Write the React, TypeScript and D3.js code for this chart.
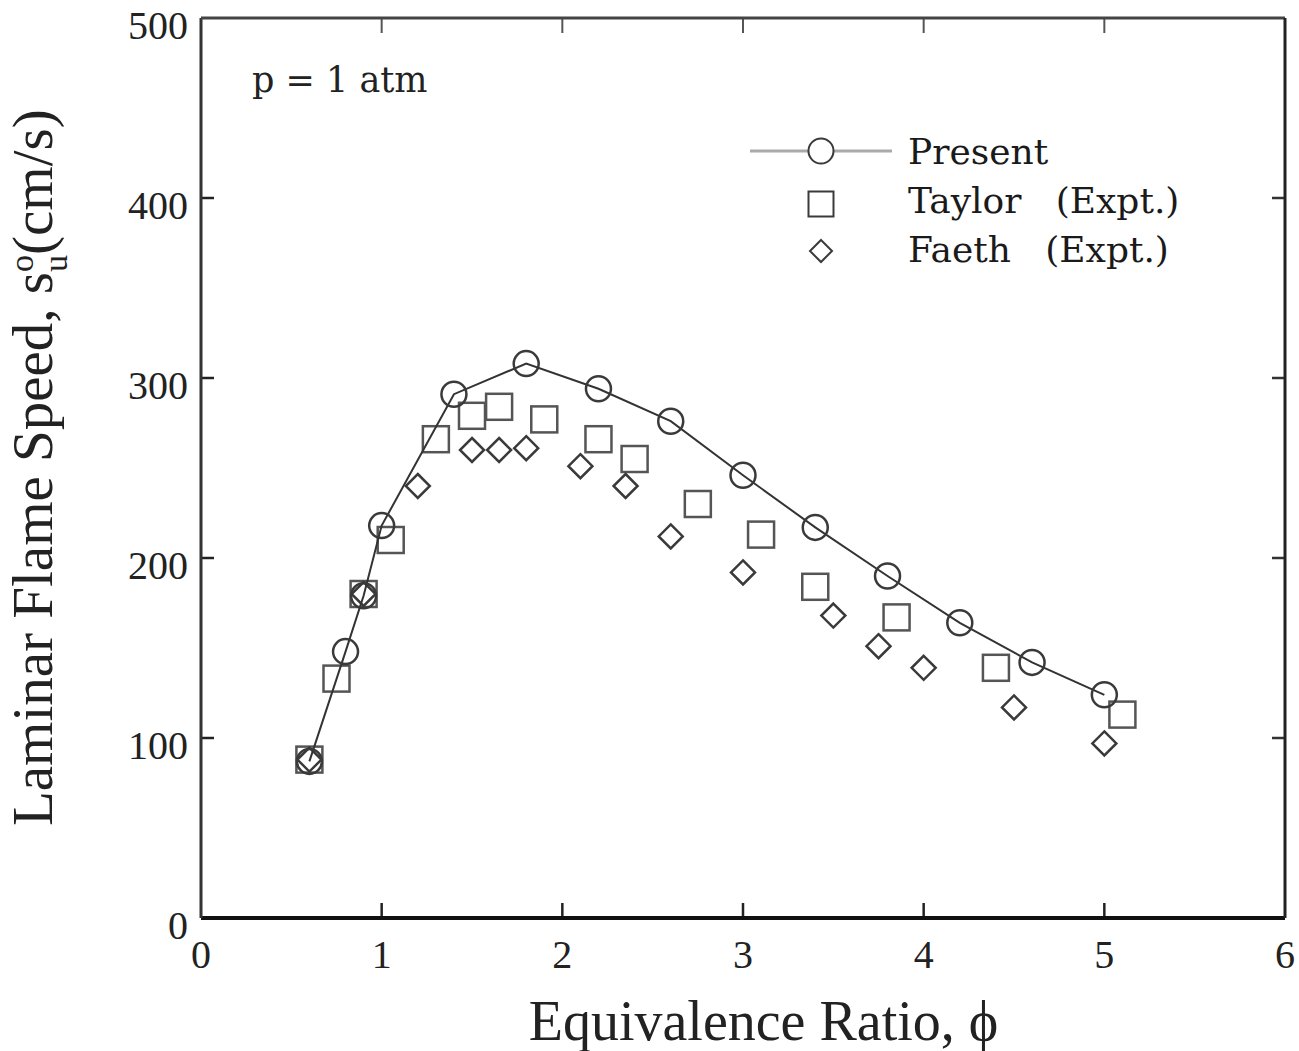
import React from "react";
import * as d3 from "d3";

const presentPhi = [0.6, 0.8, 0.9, 1.0, 1.4, 1.8, 2.2, 2.6, 3.0, 3.4, 3.8, 4.2, 4.6, 5.0];
const presentSpeed = [87, 148, 179, 218, 291, 308, 294, 276, 246, 217, 190, 164, 142, 124];

const taylorPhi = [0.6, 0.75, 0.9, 1.05, 1.3, 1.5, 1.65, 1.9, 2.2, 2.4, 2.75, 3.1, 3.4, 3.85, 4.4, 5.1];
const taylorSpeed = [88, 133, 180, 210, 266, 279, 284, 277, 266, 255, 230, 213, 184, 167, 139, 113];

const faethPhi = [0.6, 0.9, 1.2, 1.5, 1.65, 1.8, 2.1, 2.35, 2.6, 3.0, 3.5, 3.75, 4.0, 4.5, 5.0];
const faethSpeed = [88, 180, 240, 260, 260, 261, 251, 240, 212, 192, 168, 151, 139, 117, 97];

const xTicks = [0, 1, 2, 3, 4, 5, 6];
const yTicks = [0, 100, 200, 300, 400, 500];
const legendLabels = ["Present", "Taylor   (Expt.)", "Faeth   (Expt.)"];

const W = 1299;
const H = 1051;
const L = 201, R = 1285, T = 18, B = 918;

export default function App() {
  const x = d3.scaleLinear().domain([0, 6]).range([L, R]);
  const y = d3.scaleLinear().domain([0, 500]).range([B, T]);
  const line = d3
    .line<number>()
    .x((_, i) => x(presentPhi[i]))
    .y((d) => y(d));
  const pathD = line(presentSpeed) || "";
  const mk = "#3a3a3a";
  const serif = "'Liberation Serif', 'Times New Roman', serif";
  const serif2 = "'DejaVu Serif', serif";
  const sq = 13;
  const dm = 12;
  const cr = 12.5;
  const diamond = (cx: number, cy: number, s: number) =>
    `M${cx},${cy - s}L${cx + s},${cy}L${cx},${cy + s}L${cx - s},${cy}Z`;

  return (
    <svg
      width={W}
      height={H}
      style={{ position: "absolute", left: 0, top: 0, background: "#fff" }}
    >
      <rect x={0} y={0} width={W} height={H} fill="#fff" />
      {/* ticks */}
      {xTicks.slice(1, -1).map((t) => (
        <g key={"xt" + t}>
          <line x1={x(t)} x2={x(t)} y1={B} y2={B - 15} stroke="#222" strokeWidth={2.5} />
          <line x1={x(t)} x2={x(t)} y1={T} y2={T + 15} stroke="#555" strokeWidth={2} />
        </g>
      ))}
      {yTicks.slice(1, -1).map((t) => (
        <g key={"yt" + t}>
          <line x1={L} x2={L + 13} y1={y(t)} y2={y(t)} stroke="#222" strokeWidth={2.5} />
          <line x1={R} x2={R - 13} y1={y(t)} y2={y(t)} stroke="#333" strokeWidth={2.5} />
        </g>
      ))}
      {/* frame */}
      <line x1={L} x2={R} y1={B} y2={B} stroke="#111" strokeWidth={4} />
      <line x1={L} x2={L} y1={T} y2={B} stroke="#333" strokeWidth={3} />
      <line x1={L} x2={R} y1={T} y2={T} stroke="#444" strokeWidth={3} />
      <line x1={R} x2={R} y1={T} y2={B} stroke="#222" strokeWidth={3} />

      {/* tick labels */}
      {xTicks.map((t) => (
        <text
          key={"xl" + t}
          x={x(t)}
          y={968}
          textAnchor="middle"
          fontFamily={serif}
          fontSize={40}
          fill="#222"
        >
          {t}
        </text>
      ))}
      {yTicks.map((t) => (
        <text
          key={"yl" + t}
          x={188}
          y={y(t) + 21}
          textAnchor="end"
          fontFamily={serif}
          fontSize={40}
          fill="#222"
        >
          {t}
        </text>
      ))}

      {/* axis titles */}
      <text
        x={(527 + 1000) / 2}
        y={1040}
        textAnchor="middle"
        fontFamily={serif}
        fontSize={56}
        fill="#222"
      >
        Equivalence Ratio, ϕ
      </text>
      <text
        transform="translate(52,826) rotate(-90)"
        fontFamily={serif}
        fontSize={57}
        fill="#222"
      >
        Laminar Flame Speed, s
        <tspan fontSize={34} dy={-19}>o</tspan>
        <tspan fontSize={34} dx={-17} dy={34}>u</tspan>
        <tspan dy={-15}>(cm/s)</tspan>
      </text>

      {/* annotation */}
      <text x={252} y={92} fontFamily={serif2} fontSize={35} fill="#222">
        p = 1 atm
      </text>

      {/* legend */}
      <line x1={750} x2={892} y1={151} y2={151} stroke="#aaa" strokeWidth={3} />
      <circle cx={821} cy={151} r={cr} fill="#fff" stroke={mk} strokeWidth={2} />
      <rect x={821 - 12.5} y={204 - 12.5} width={25} height={25} fill="#fff" stroke={mk} strokeWidth={2} />
      <path d={diamond(821, 251, 11)} fill="#fff" stroke={mk} strokeWidth={2} />
      {legendLabels.map((lab, i) => (
        <text
          key={lab}
          x={908}
          y={164 + i * 49}
          fontFamily={serif2}
          fontSize={36}
          fill="#1a1a1a"
          style={{ whiteSpace: "pre" }}
        >
          {lab}
        </text>
      ))}

      {/* Taylor squares */}
      {taylorPhi.map((p, i) => (
        <rect
          key={"tq" + i}
          x={x(p) - sq}
          y={y(taylorSpeed[i]) - sq}
          width={2 * sq}
          height={2 * sq}
          fill="none"
          stroke="#555"
          strokeWidth={2.5}
        />
      ))}
      {/* Faeth diamonds */}
      {faethPhi.map((p, i) => (
        <path
          key={"fd" + i}
          d={diamond(x(p), y(faethSpeed[i]), dm)}
          fill="none"
          stroke={mk}
          strokeWidth={2.5}
        />
      ))}
      {/* Present line + circles */}
      <path d={pathD} fill="none" stroke="#333" strokeWidth={2} />
      {presentPhi.map((p, i) => (
        <circle
          key={"pc" + i}
          cx={x(p)}
          cy={y(presentSpeed[i])}
          r={cr}
          fill="none"
          stroke={mk}
          strokeWidth={2.5}
        />
      ))}
    </svg>
  );
}
